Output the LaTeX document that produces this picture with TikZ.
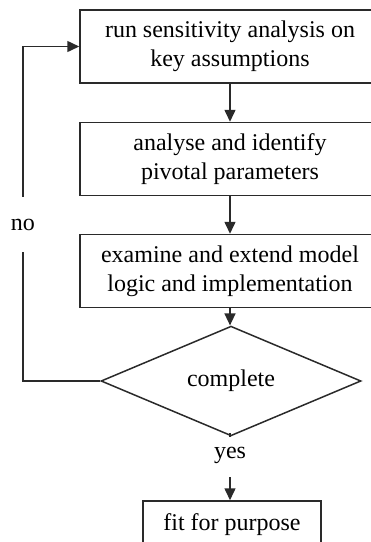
\documentclass[tikz,border=0pt]{standalone}
\usepackage{fontspec}
\setmainfont{Liberation Serif}
\usetikzlibrary{shapes.geometric,arrows.meta}
\definecolor{ink}{HTML}{2A2A2A}
\tikzset{
  stepbox/.style={draw=ink, line width=1.5pt, rectangle, minimum width=300pt, minimum height=73pt, align=center, inner sep=0pt, font=\fontsize{24}{29}\selectfont},
  decbox/.style={draw=ink, line width=1.5pt, diamond, minimum width=260pt, minimum height=76pt, inner sep=0pt, font=\fontsize{24}{29}\selectfont},
  lbl/.style={inner sep=0pt, font=\fontsize{24}{29}\selectfont},
  conn/.style={draw=ink, line width=1.5pt},
  arr/.style={conn, -{Triangle[width=11pt,length=12pt]}}
}
\begin{document}
\begin{tikzpicture}[x=1pt,y=1pt]
\useasboundingbox (0,0) rectangle (371,-542);
\clip (0,0) rectangle (371,-542);
\node[stepbox] (b1) at (230,-46.5) {run sensitivity analysis on\\key assumptions};
\node[stepbox] (b2) at (230,-159) {analyse and identify\\pivotal parameters};
\node[stepbox] (b3) at (230,-271) {examine and extend model\\logic and implementation};
\node[decbox] (dec) at (231,-381) {complete};
\node[stepbox, minimum width=178pt, minimum height=48pt] (fin) at (232,-525) {fit for purpose};
\node[lbl, minimum height=55pt] (no) at (23,-224.5) {no};
\node[lbl, minimum height=44pt] (yes) at (230,-455) {yes};
\draw[arr] (b1.south) -- (b2.north);
\draw[arr] (b2.south) -- (b3.north);
\draw[arr] (b3.south) -- (b3.south |- dec.north);
\draw[conn] (dec.west) -| (no.south);
\draw[arr] (no.north) |- (b1.west);
\draw[conn] (dec.south -| yes.north) -- (yes.north);
\draw[arr] (yes.south) -- (yes.south |- fin.north);
\end{tikzpicture}
\end{document}
